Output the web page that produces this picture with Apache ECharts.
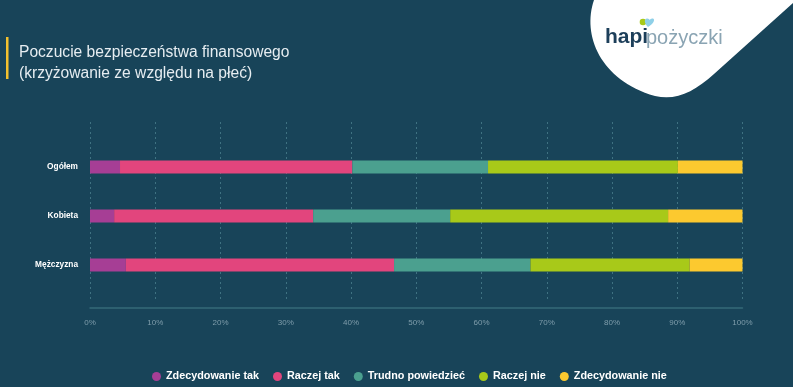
<!DOCTYPE html>
<html>
<head>
<meta charset="utf-8">
<script src="https://cdn.jsdelivr.net/npm/echarts@6/dist/echarts.min.js"></script>
<style>
html,body{margin:0;padding:0;background:#184459;}
#c{width:793px;height:387px;}
</style>
</head>
<body>
<div id="c"></div>
<script>
const categories = ['Ogółem', 'Kobieta', 'Mężczyzna'];
const seriesNames = ['Zdecydowanie tak', 'Raczej tak', 'Trudno powiedzieć', 'Raczej nie', 'Zdecydowanie nie'];
const zdecydowanieTak = [4.6, 3.7, 5.5];
const raczejTak = [35.6, 30.5, 41.1];
const trudnoPowiedziec = [20.8, 21.0, 20.9];
const raczejNie = [29.1, 33.4, 24.4];
const zdecydowanieNie = [9.9, 11.4, 8.1];
const tickValues = [0, 10, 20, 30, 40, 50, 60, 70, 80, 90, 100];
const colors = ['#a63e95', '#e2457d', '#4ba08f', '#a8c919', '#fcc92f'];

const seriesData = [zdecydowanieTak, raczejTak, trudnoPowiedziec, raczejNie, zdecydowanieNie];

echarts.graphic.registerShape('leafShape', echarts.graphic.extendPath('M 594 0 C 582 35 600 80 655 96 C 676 101 694 92 714 74 L 793 3 L 793 0 Z'));
echarts.graphic.registerShape('heartShape', echarts.graphic.extendPath('M 648 27 C 644 23 644 19 647 18.5 C 648.5 18.3 649.3 19.5 649.8 20 C 650.3 19.2 651.3 18 653 18.6 C 655.5 19.5 653.5 24 648 27 Z'));

const chart = echarts.init(document.getElementById('c'), null, {renderer: 'canvas'});

const series = seriesNames.map((name, i) => ({
  name: name,
  type: 'bar',
  stack: 'total',
  xAxisIndex: 0,
  yAxisIndex: 0,
  barWidth: 13,
  itemStyle: {color: colors[i]},
  data: seriesData[i]
}));

chart.setOption({
  backgroundColor: '#184459',
  animation: false,
  color: colors,
  title: {
    text: 'Poczucie bezpieczeństwa finansowego\n(krzyżowanie ze względu na płeć)',
    left: 14,
    top: 37,
    textStyle: {
      color: '#e6edf1',
      fontFamily: 'Liberation Sans, Arial, sans-serif',
      fontWeight: 'normal',
      fontSize: 15.6,
      lineHeight: 21
    }
  },
  graphic: [
    {type: 'rect', shape: {x: 6, y: 37, width: 2.5, height: 42}, style: {fill: '#f2c12e'}},
    {type: 'leafShape', style: {fill: '#ffffff'}},
    {type: 'text', left: 605, top: 27, style: {text: 'hapi', fill: '#1d3f5a', font: 'bold 21px "Liberation Sans", Arial, sans-serif'}},
    {type: 'text', left: 646, top: 28, style: {text: 'pożyczki', fill: '#8aa4b3', font: '20px "Liberation Sans", Arial, sans-serif'}},
    {type: 'circle', shape: {cx: 643, cy: 22, r: 3.3}, style: {fill: '#a8c919'}},
    {type: 'heartShape', style: {fill: '#8fd0e8'}}
  ],
  legend: {
    top: 366,
    left: 147,
    icon: 'circle',
    itemWidth: 9,
    itemHeight: 9,
    itemGap: 14,
    textStyle: {color: '#ffffff', fontWeight: 'bold', fontSize: 10.8, fontFamily: 'Liberation Sans, Arial, sans-serif'},
    data: seriesNames
  },
  grid: [
    {left: 90, right: 50.5, top: 142.5, height: 147},
    {left: 90, right: 50.5, top: 122, height: 177}
  ],
  xAxis: [
    {
      gridIndex: 0, type: 'value', min: 0, max: 100, interval: 10,
      axisLine: {show: false}, axisTick: {show: false}, axisLabel: {show: false}, splitLine: {show: false}
    },
    {
      gridIndex: 1, type: 'value', min: 0, max: 100, interval: 10,
      offset: 9,
      axisLine: {show: true, lineStyle: {color: '#346978', width: 1.5}},
      axisTick: {show: false},
      axisLabel: {
        color: '#7f9dab', fontSize: 8, margin: 11,
        fontFamily: 'Liberation Sans, Arial, sans-serif',
        formatter: v => tickValues.includes(v) ? v + '%' : ''
      },
      splitLine: {show: true, lineStyle: {color: '#3f7282', type: [2, 3], width: 1}}
    }
  ],
  yAxis: [
    {
      gridIndex: 0, type: 'category', inverse: true, data: categories,
      axisLine: {show: false}, axisTick: {show: false},
      axisLabel: {color: '#ffffff', fontWeight: 'bold', fontSize: 8.3, margin: 12, fontFamily: 'Liberation Sans, Arial, sans-serif'}
    },
    {
      gridIndex: 1, type: 'category', data: categories, show: false
    }
  ],
  series: series
});
</script>
</body>
</html>
